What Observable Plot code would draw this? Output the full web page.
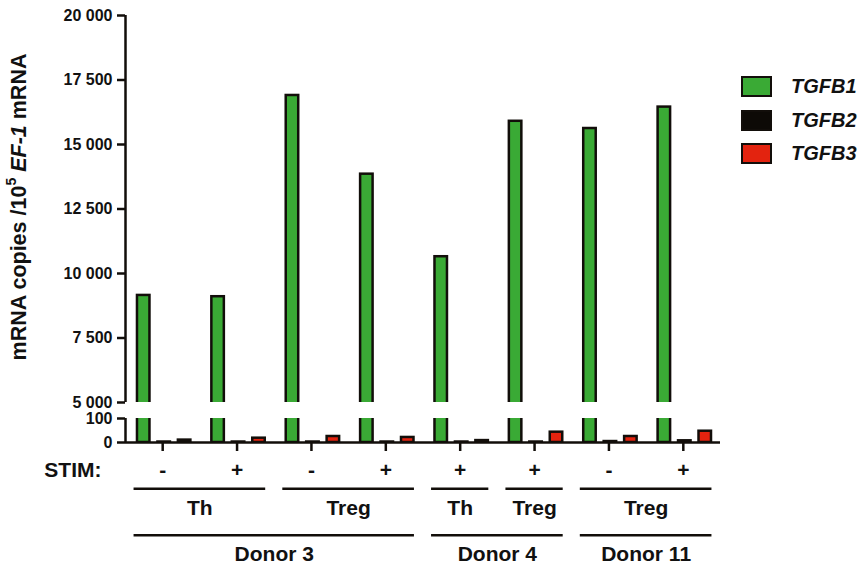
<!DOCTYPE html>
<html>
<head>
<meta charset="utf-8">
<script src="https://cdn.jsdelivr.net/npm/d3@7"></script>
<script src="https://cdn.jsdelivr.net/npm/@observablehq/plot@0.6"></script>
<style>
  body { margin: 0; background: #fff; }
  #chart { position: relative; width: 861px; height: 566px; overflow: hidden;
           font-family: "Liberation Sans", Arial, Helvetica, sans-serif; color: #111; }
  #chart svg { position: absolute; left: 0; }
  .ytitle { position: absolute; left: 18px; top: 207px; transform: translate(-50%, -50%) rotate(-90deg);
            white-space: nowrap; font-size: 21.5px; font-weight: bold; }
  .ytitle sup { font-size: 14px; position: relative; top: -1px; }
  .legend { position: absolute; left: 741px; top: 76px; }
  .legend .item { display: flex; align-items: center; height: 21px; margin-bottom: 12.5px; }
  .legend .sw { width: 31px; height: 21px; box-sizing: border-box; border: 2.5px solid #120e0a; }
  .legend .lab { margin-left: 19px; font-size: 20px; font-weight: bold; font-style: italic; }
</style>
</head>
<body>
<div id="chart"></div>
<script>
// ---- data ----
const groupStim  = ["-", "+", "-", "+", "+", "+", "-", "+"];
const groupCell  = ["Th", "Th", "Treg", "Treg", "Th", "Treg", "Treg", "Treg"];
const groupDonor = ["Donor 3", "Donor 3", "Donor 3", "Donor 3", "Donor 4", "Donor 4", "Donor 11", "Donor 11"];
const genes = ["TGFB1", "TGFB2", "TGFB3"];
const geneColors = ["#3aaa35", "#0d0a06", "#e3230f"];
const tgfb1 = [9150, 9100, 16900, 13850, 10650, 15900, 15620, 16450];
const tgfb2 = [2, 2, 2, 2, 2, 2, 4, 7];
const tgfb3 = [10, 18, 25, 21, 8, 43, 25, 47];
const topTicks = [5000, 7500, 10000, 12500, 15000, 17500, 20000];
const bottomTicks = [0, 100];
const stimLabel = "STIM:";

// ---- table ----
const series = [tgfb1, tgfb2, tgfb3];
const rows = [];
groupStim.forEach((_, i) => genes.forEach((g, j) => rows.push({group: i, gene: g, value: series[j][i]})));

const pitch = 0.275, half = 0.084;
const xc = d => d.group + 0.5 + (genes.indexOf(d.gene) - 1) * pitch + 0.02;
const fmt = d => d3.format(",")(d).replace(/,/g, " ");

function spans(keyFn, labelFn) {
  const out = [];
  groupStim.forEach((_, i) => {
    const k = keyFn(i);
    const last = out[out.length - 1];
    if (last && last.key === k) last.end = i;
    else out.push({key: k, label: labelFn(i), start: i, end: i});
  });
  return out;
}
const cellSpans = spans(i => groupDonor[i] + "|" + groupCell[i], i => groupCell[i]);
const donorSpans = spans(i => groupDonor[i], i => groupDonor[i]);

const INK = "#120e0a";
const common = {
  width: 861, marginLeft: 125, marginRight: 141,
  color: {domain: genes, range: geneColors},
  style: {fontFamily: '"Liberation Sans", Arial, Helvetica, sans-serif', fontSize: "16px",
          fontWeight: "bold", color: "#111", background: "transparent", overflow: "visible"}
};
const barOpts = {x1: d => xc(d) - half, x2: d => xc(d) + half, y1: 0, y2: "value",
                 fill: "gene", stroke: INK, strokeWidth: 2.5, clip: true};

const chart = document.getElementById("chart");

// top panel (5 000 – 20 000)
const topPlot = Plot.plot({
  ...common, height: 415, marginTop: 15, marginBottom: 13,
  x: {domain: [0, 8], axis: null},
  y: {domain: [5000, 20000]},
  marks: [
    Plot.rectY(rows, barOpts),
    Plot.ruleX([0], {stroke: INK, strokeWidth: 2.5}),
    Plot.axisY({ticks: topTicks, tickFormat: fmt, tickSize: 8, tickPadding: 5, stroke: INK, strokeWidth: 2.5, label: null})
  ]
});
topPlot.style.top = "0px";
chart.appendChild(topPlot);

// bottom panel (0 – 100)
const bottomPlot = Plot.plot({
  ...common, height: 55, marginTop: 13, marginBottom: 18,
  x: {domain: [0, 8]},
  y: {domain: [0, 100]},
  marks: [
    Plot.rectY(rows, barOpts),
    Plot.ruleX([0], {stroke: INK, strokeWidth: 2.5}),
    Plot.ruleY([0], {stroke: INK, strokeWidth: 2.5}),
    Plot.axisY({ticks: bottomTicks, tickFormat: fmt, tickSize: 8, tickPadding: 5, stroke: INK, strokeWidth: 2.5, label: null}),
    Plot.axisX({ticks: groupStim.map((_, i) => i + 0.5), tickFormat: () => "", tickSize: 9, stroke: INK, strokeWidth: 2.5, label: null})
  ]
});
bottomPlot.style.top = "405px";
chart.appendChild(bottomPlot);

// annotation rows below the axis
const pad = 0.115;
const annPlot = Plot.plot({
  ...common, height: 116, marginTop: 18, marginBottom: 11,
  style: {...common.style, fontSize: "21px"},
  x: {domain: [0, 8], axis: null},
  y: {type: "point", padding: 0, domain: ["stim", "cellRule", "cell", "donorRule", "donor"], axis: null},
  marks: [
    Plot.text([stimLabel], {y: () => "stim", frameAnchor: "left", textAnchor: "end", dx: -24, fill: "#111"}),
    Plot.text(groupStim, {x: (d, i) => i + 0.5, y: () => "stim", fill: "#111"}),
    Plot.ruleY(cellSpans, {x1: d => d.start + pad, x2: d => d.end + 1 - pad, y: () => "cellRule", dy: -2.75, stroke: INK, strokeWidth: 2.5}),
    Plot.text(cellSpans, {x: d => (d.start + d.end + 1) / 2, y: () => "cell", text: "label", dy: -4.5, fill: "#111"}),
    Plot.ruleY(donorSpans, {x1: d => d.start + pad, x2: d => d.end + 1 - pad, y: () => "donorRule", dy: 1.75, stroke: INK, strokeWidth: 2.5}),
    Plot.text(donorSpans, {x: d => (d.start + d.end + 1) / 2, y: () => "donor", text: "label", fill: "#111"})
  ]
});
annPlot.style.top = "450px";
chart.appendChild(annPlot);

// y-axis title
const yt = document.createElement("div");
yt.className = "ytitle";
yt.innerHTML = 'mRNA copies /10<sup>5</sup> <i>EF-1</i> mRNA';
chart.appendChild(yt);

// legend
const lg = document.createElement("div");
lg.className = "legend";
genes.forEach((g, j) => {
  const it = document.createElement("div");
  it.className = "item";
  const sw = document.createElement("div");
  sw.className = "sw";
  sw.style.background = geneColors[j];
  const lab = document.createElement("div");
  lab.className = "lab";
  lab.textContent = g;
  it.appendChild(sw); it.appendChild(lab);
  lg.appendChild(it);
});
chart.appendChild(lg);
</script>
</body>
</html>
